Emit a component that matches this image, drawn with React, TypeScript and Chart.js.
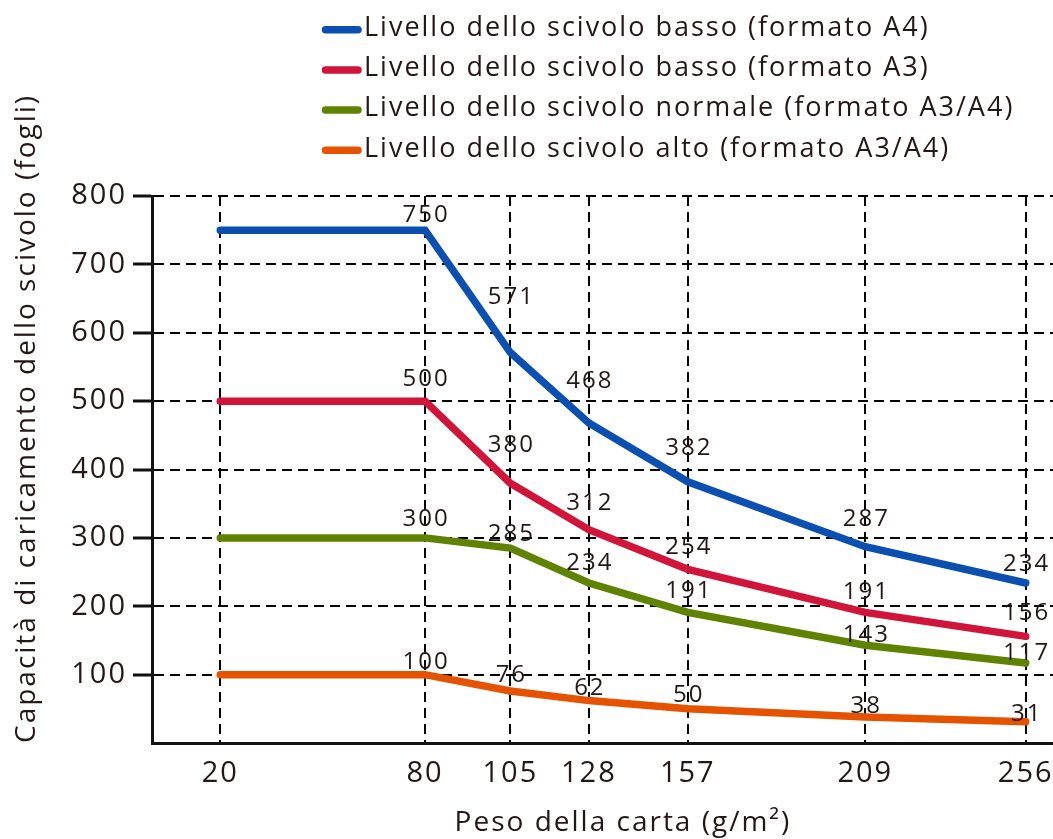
import React, { useEffect, useRef } from 'react';
import { Chart, registerables } from 'chart.js';

Chart.register(...registerables);

// ---- data ----
const paperWeights = [20, 80, 105, 128, 157, 209, 256];
const lowA4 = [750, 750, 571, 468, 382, 287, 234];
const lowA3 = [500, 500, 380, 312, 254, 191, 156];
const normalA3A4 = [300, 300, 285, 234, 191, 143, 117];
const highA3A4 = [100, 100, 76, 62, 50, 38, 31];
const seriesNames = [
  'Livello dello scivolo basso (formato A4)',
  'Livello dello scivolo basso (formato A3)',
  'Livello dello scivolo normale (formato A3/A4)',
  'Livello dello scivolo alto (formato A3/A4)',
];
const yTitle = 'Capacità di caricamento dello scivolo (fogli)';
const xTitle = 'Peso della carta (g/m²)';

// ---- styles ----
const FAMILY = "'Open Sans', 'Noto Sans', sans-serif";
const TEXT = '#231815';
const COLORS = ['#0b4fb1', '#d0143a', '#5f8200', '#e65300'];
// vertical offsets (px) of the value labels relative to their points
const LABEL_DY = [
  [0, -17, -57, -44, -35, -29, -21],
  [0, -24, -40, -28, -24, -22, -25],
  [0, -20, -16, -22, -23, -12, -12],
  [0, -14, -18, -14, -15, -13, -9],
];

const tracking = {
  id: 'tracking',
  beforeDraw(chart: any) {
    (chart.ctx as any).letterSpacing = '2px';
  },
};

const valueLabels = {
  id: 'valueLabels',
  afterDatasetsDraw(chart: any) {
    const ctx = chart.ctx;
    const fs = 24;
    ctx.save();
    ctx.font = `${fs}px ${FAMILY}`;
    ctx.fillStyle = TEXT;
    ctx.textAlign = 'center';
    ctx.textBaseline = 'alphabetic';
    chart.data.datasets.forEach((ds: any, di: number) => {
      const meta = chart.getDatasetMeta(di);
      meta.data.forEach((el: any, i: number) => {
        if (i === 0) return;
        ctx.fillText(String(ds.data[i].y), el.x + 1, el.y + LABEL_DY[di][i] + 0.357 * fs);
      });
    });
    ctx.restore();
  },
};

const legendAndTitle = {
  id: 'legendAndTitle',
  afterDraw(chart: any) {
    const ctx = chart.ctx;
    ctx.save();
    // legend
    ctx.font = `27px ${FAMILY}`;
    ctx.textAlign = 'left';
    ctx.textBaseline = 'alphabetic';
    chart.data.datasets.forEach((ds: any, i: number) => {
      const base = 36 + 40.2 * i;
      const cy = base - 6.3;
      ctx.beginPath();
      ctx.strokeStyle = ds.borderColor;
      ctx.lineWidth = 7.5;
      ctx.lineCap = 'round';
      ctx.moveTo(325.5, cy);
      ctx.lineTo(358, cy);
      ctx.stroke();
      ctx.fillStyle = TEXT;
      ctx.fillText(ds.label, 364, base);
    });
    // x axis title, centred under the tick labels
    const xs = chart.scales.x;
    const cx = (xs.getPixelForValue(paperWeights[0]) + xs.getPixelForValue(paperWeights[paperWeights.length - 1])) / 2;
    ctx.font = `28px ${FAMILY}`;
    ctx.textAlign = 'center';
    ctx.fillStyle = TEXT;
    ctx.fillText(xTitle, cx, 831);
    ctx.restore();
  },
};

export default function App() {
  const ref = useRef<HTMLCanvasElement>(null);
  useEffect(() => {
    document.body.style.margin = '0';
    const series = [lowA4, lowA3, normalA3A4, highA3A4];
    const chart = new Chart(ref.current as HTMLCanvasElement, {
      type: 'line',
      data: {
        datasets: series.map((vals, i) => ({
          label: seriesNames[i],
          data: paperWeights.map((x, j) => ({ x, y: vals[j] })),
          borderColor: COLORS[i],
          backgroundColor: COLORS[i],
          borderWidth: 7.5,
          borderCapStyle: 'round',
          borderJoinStyle: 'miter',
          pointRadius: 0,
          pointHoverRadius: 0,
          tension: 0,
          fill: false,
        })),
      },
      options: {
        animation: false,
        responsive: false,
        devicePixelRatio: 1,
        layout: { autoPadding: false, padding: { top: 196, left: 0, right: 0, bottom: 0 } },
        plugins: {
          legend: { display: false },
          tooltip: { enabled: false },
        },
        scales: {
          x: {
            type: 'linear',
            min: 0,
            max: 264,
            afterBuildTicks: (s: any) => {
              s.ticks = paperWeights.map((v) => ({ value: v }));
            },
            afterFit: (s: any) => {
              s.height = 96;
              s.paddingRight = 0;
              s.paddingLeft = 0;
            },
            ticks: {
              font: { family: FAMILY, size: 29 },
              color: TEXT,
              padding: 13,
              autoSkip: false,
              maxRotation: 0,
              callback: (v: any) => String(v),
            },
            grid: { color: '#000', lineWidth: 2, drawTicks: false },
            border: { color: '#111', width: 3, dash: [10, 6] },
          },
          y: {
            type: 'linear',
            min: 0,
            max: 800,
            afterFit: (s: any) => {
              s.width = 152;
              s.paddingTop = 0;
              s.paddingBottom = 0;
            },
            ticks: {
              stepSize: 100,
              font: { family: FAMILY, size: 29 },
              color: TEXT,
              padding: 6,
              callback: (v: any) => (v === 0 ? '' : String(v)),
            },
            grid: {
              color: (c: any) => (c.tick && c.tick.value === 0 ? 'rgba(0,0,0,0)' : '#000'),
              lineWidth: 2,
              tickLength: 19,
              tickWidth: 3,
              tickColor: (c: any) => (c.tick && c.tick.value === 0 ? 'rgba(0,0,0,0)' : '#111'),
              tickBorderDash: [],
            },
            border: { color: '#111', width: 3, dash: [10, 6] },
            title: {
              display: true,
              text: yTitle,
              align: 'start',
              color: TEXT,
              font: { family: FAMILY, size: 28 },
              padding: { top: 10, bottom: 0 },
            },
          },
        },
      },
      plugins: [tracking, valueLabels, legendAndTitle],
    } as any);
    return () => chart.destroy();
  }, []);
  return (
    <div style={{ width: 1053, height: 839 }}>
      <canvas ref={ref} width={1053} height={839} style={{ display: 'block' }} />
    </div>
  );
}
